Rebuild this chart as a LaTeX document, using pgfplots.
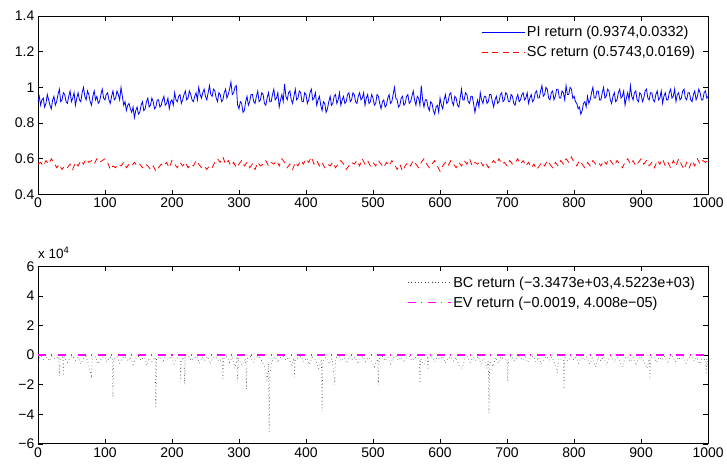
\documentclass[border=0pt]{standalone}
\usepackage{pgfplots}
\pgfplotsset{compat=1.18}
\usepackage{fontspec}
\setmainfont{Liberation Sans}

\pgfplotsset{
  mlab/.style={
    scale only axis, width=672pt,
    xmin=0, xmax=1000, xtick={0,100,...,1000},
    tick align=inside, major tick length=5pt,
    axis line style={line width=0.8pt}, every tick/.style={black, line width=0.6pt},
    /pgf/number format/assume math mode=true,
    /pgf/number format/1000 sep={},
    tick label style={font=\fontsize{14}{16}\selectfont},
    legend style={draw=none, fill=none, font=\fontsize{14.5}{17}\selectfont,
      at={(0.988,0.965)}, anchor=north east, row sep=4pt},
    legend cell align=left,
  },
}

\begin{document}
\begin{tikzpicture}
\path (0,0) rectangle (727pt,-468pt);

% top panel
\begin{axis}[mlab, at={(38pt,-195pt)}, anchor=south west, height=179pt,
  ymin=0.4, ymax=1.4, ytick={0.4,0.6,...,1.4},
  legend image code/.code={\draw[#1] (0pt,0pt) -- (43pt,0pt);}]
\addplot[blue, line width=0.8pt] coordinates {
(0,0.92)(2,0.95)(4,0.90)(6,0.93)(8,0.94)(10,0.89)(12,0.91)(14,0.96)(16,0.93)(18,0.90)(20,0.88)(22,0.93)(24,0.95)(26,0.90)(28,0.92)(30,0.96)(32,0.99)(34,0.92)(36,0.93)(38,0.97)(40,0.96)(42,0.92)(44,0.91)(46,0.95)(48,0.98)(50,0.92)(52,0.94)(54,0.97)(56,0.90)(58,0.94)(60,0.97)(62,0.93)(64,0.92)(66,0.97)(68,1.00)(70,0.95)(72,0.93)(74,0.98)(76,0.96)(78,0.92)(80,0.90)(82,0.95)(84,0.98)(86,0.93)(88,0.95)(90,0.91)(92,0.92)(94,0.96)(96,0.99)(98,0.94)
(100,0.93)(102,0.96)(104,0.97)(106,0.93)(108,0.91)(110,0.95)(112,0.98)(114,0.93)(116,0.94)(118,0.98)(120,0.96)(122,0.93)(124,1.00)(126,0.95)(128,0.90)(130,0.92)(132,0.87)(134,0.90)(136,0.91)(138,0.88)(140,0.86)(142,0.89)(144,0.83)(146,0.87)(148,0.89)(150,0.85)(152,0.86)(154,0.90)(156,0.92)(158,0.87)(160,0.88)(162,0.92)(164,0.94)(166,0.89)(168,0.90)(170,0.94)(172,0.92)(174,0.88)(176,0.89)(178,0.93)(180,0.93)(182,0.89)(184,0.90)(186,0.93)(188,0.95)(190,0.90)(192,0.91)(194,0.94)(196,0.88)(198,0.92)
(200,0.93)(202,0.90)(204,0.97)(206,0.93)(208,0.92)(210,0.95)(212,0.96)(214,0.91)(216,0.93)(218,0.96)(220,0.98)(222,0.93)(224,0.94)(226,0.98)(228,0.96)(230,0.93)(232,0.92)(234,0.95)(236,0.97)(238,0.93)(240,1.00)(242,0.96)(244,0.94)(246,0.97)(248,0.99)(250,0.95)(252,0.93)(254,0.97)(256,1.01)(258,0.96)(260,0.95)(262,0.99)(264,0.98)(266,0.94)(268,0.92)(270,0.97)(272,0.96)(274,0.92)(276,0.93)(278,0.97)(280,0.99)(282,0.94)(284,0.96)(286,0.99)(288,1.03)(290,0.96)(292,0.97)(294,1.00)(296,1.01)(298,0.90)
(300,0.88)(302,0.92)(304,0.91)(306,0.86)(308,0.87)(310,0.92)(312,0.95)(314,0.90)(316,0.92)(318,0.96)(320,0.96)(322,0.92)(324,0.91)(326,0.95)(328,0.98)(330,0.92)(332,0.93)(334,0.97)(336,0.96)(338,0.91)(340,0.90)(342,0.94)(344,0.97)(346,0.92)(348,0.92)(350,0.96)(352,0.99)(354,0.93)(356,0.94)(358,0.97)(360,0.89)(362,0.93)(364,0.96)(366,0.92)(368,1.02)(370,0.95)(372,0.93)(374,0.97)(376,0.98)(378,0.93)(380,0.91)(382,0.95)(384,0.99)(386,0.93)(388,0.94)(390,0.98)(392,0.97)(394,0.92)(396,0.92)(398,0.97)
(400,0.96)(402,0.91)(404,0.93)(406,0.97)(408,0.99)(410,0.93)(412,0.94)(414,0.97)(416,0.90)(418,0.93)(420,0.95)(422,0.90)(424,0.87)(426,0.92)(428,0.91)(430,0.86)(432,0.88)(434,0.92)(436,0.95)(438,0.90)(440,0.91)(442,0.95)(444,0.96)(446,0.91)(448,0.93)(450,0.97)(452,0.90)(454,0.93)(456,0.95)(458,0.91)(460,0.92)(462,0.96)(464,0.97)(466,0.92)(468,0.93)(470,0.97)(472,0.96)(474,0.92)(476,0.91)(478,0.95)(480,0.97)(482,0.93)(484,0.94)(486,0.97)(488,0.90)(490,0.94)(492,0.96)(494,0.91)(496,0.92)(498,0.96)
(500,0.94)(502,0.90)(504,0.91)(506,0.96)(508,0.95)(510,0.91)(512,0.88)(514,0.92)(516,0.93)(518,0.89)(520,0.90)(522,0.94)(524,0.96)(526,0.91)(528,0.92)(530,0.96)(532,1.00)(534,0.94)(536,0.93)(538,0.89)(540,0.90)(542,0.94)(544,0.95)(546,0.90)(548,0.91)(550,0.95)(552,0.96)(554,0.91)(556,0.92)(558,0.95)(560,0.98)(562,0.93)(564,0.90)(566,0.95)(568,0.94)(570,0.90)(572,1.01)(574,0.93)(576,0.89)(578,0.93)(580,0.93)(582,0.89)(584,0.87)(586,0.92)(588,0.91)(590,0.87)(592,0.85)(594,0.89)(596,0.90)(598,0.86)
(600,0.94)(602,0.90)(604,0.88)(606,0.93)(608,0.96)(610,0.91)(612,0.92)(614,0.96)(616,0.97)(618,0.92)(620,0.90)(622,0.95)(624,0.94)(626,0.90)(628,0.89)(630,0.94)(632,0.99)(634,0.93)(636,0.93)(638,0.97)(640,0.96)(642,0.92)(644,0.91)(646,0.95)(648,0.95)(650,0.91)(652,0.86)(654,0.90)(656,0.93)(658,0.89)(660,0.97)(662,0.93)(664,0.91)(666,0.95)(668,0.95)(670,0.91)(672,0.92)(674,0.96)(676,0.96)(678,0.92)(680,0.89)(682,0.93)(684,0.95)(686,0.91)(688,0.92)(690,0.96)(692,0.97)(694,0.92)(696,0.93)(698,0.97)
(700,0.96)(702,0.92)(704,0.92)(706,0.96)(708,0.95)(710,0.91)(712,0.90)(714,0.94)(716,0.96)(718,0.92)(720,0.93)(722,0.96)(724,0.97)(726,0.93)(728,0.94)(730,0.97)(732,0.91)(734,0.94)(736,0.96)(738,0.92)(740,0.93)(742,0.97)(744,0.98)(746,0.94)(748,0.94)(750,0.98)(752,1.01)(754,0.95)(756,0.96)(758,1.00)(760,0.99)(762,0.94)(764,0.93)(766,0.97)(768,0.98)(770,0.93)(772,0.95)(774,0.99)(776,0.99)(778,0.94)(780,0.94)(782,0.98)(784,0.97)(786,0.93)(788,1.01)(790,0.96)(792,0.96)(794,1.00)(796,0.99)(798,0.94)
(800,0.95)(802,0.92)(804,0.91)(806,0.88)(808,0.89)(810,0.85)(812,0.87)(814,0.91)(816,0.92)(818,0.89)(820,0.95)(822,0.91)(824,0.93)(826,0.97)(828,1.00)(830,0.94)(832,0.94)(834,0.98)(836,0.98)(838,0.93)(840,0.93)(842,0.97)(844,1.00)(846,0.94)(848,0.95)(850,0.99)(852,0.98)(854,0.93)(856,0.91)(858,0.95)(860,0.97)(862,0.92)(864,0.93)(866,0.97)(868,0.99)(870,0.94)(872,0.95)(874,0.98)(876,0.90)(878,0.94)(880,0.97)(882,0.93)(884,1.01)(886,0.95)(888,0.93)(890,0.97)(892,0.98)(894,0.93)(896,0.92)(898,0.97)
(900,0.96)(902,0.92)(904,0.94)(906,0.98)(908,0.99)(910,0.94)(912,0.93)(914,0.97)(916,0.97)(918,0.93)(920,0.92)(922,0.96)(924,0.98)(926,0.93)(928,0.94)(930,0.98)(932,0.91)(934,0.95)(936,0.97)(938,0.93)(940,0.93)(942,0.97)(944,0.99)(946,0.94)(948,0.95)(950,0.99)(952,0.92)(954,0.96)(956,0.97)(958,0.93)(960,0.94)(962,0.98)(964,0.99)(966,0.94)(968,0.93)(970,0.97)(972,0.97)(974,0.93)(976,0.92)(978,0.96)(980,0.98)(982,0.93)(984,0.95)(986,0.99)(988,0.97)(990,0.93)(992,0.93)(994,0.97)(996,0.98)(998,0.94)(1000,0.95)
};
\addlegendentry{PI return (0.9374,0.0332)}
\addplot[red, line width=0.8pt, dash pattern=on 6pt off 4.5pt] coordinates {
(0,0.57)(4,0.58)(8,0.56)(12,0.59)(16,0.57)(20,0.60)(24,0.58)(28,0.55)(32,0.57)(36,0.54)(40,0.56)(44,0.55)(48,0.57)(52,0.54)(56,0.58)(60,0.56)(64,0.59)(68,0.57)(72,0.60)(76,0.58)(80,0.59)(84,0.57)(88,0.60)(92,0.58)(96,0.59)
(100,0.60)(104,0.58)(108,0.54)(112,0.56)(116,0.55)(120,0.57)(124,0.56)(128,0.58)(132,0.55)(136,0.57)(140,0.56)(144,0.58)(148,0.56)(152,0.57)(156,0.55)(160,0.57)(164,0.56)(168,0.54)(172,0.56)(176,0.53)(180,0.55)(184,0.57)(188,0.56)(192,0.58)(196,0.55)
(200,0.59)(204,0.57)(208,0.55)(212,0.58)(216,0.56)(220,0.58)(224,0.55)(228,0.57)(232,0.56)(236,0.59)(240,0.57)(244,0.55)(248,0.56)(252,0.54)(256,0.56)(260,0.55)(264,0.58)(268,0.60)(272,0.58)(276,0.61)(280,0.57)(284,0.59)(288,0.56)(292,0.58)(296,0.55)
(300,0.57)(304,0.59)(308,0.56)(312,0.58)(316,0.55)(320,0.57)(324,0.54)(328,0.58)(332,0.56)(336,0.57)(340,0.59)(344,0.56)(348,0.58)(352,0.57)(356,0.59)(360,0.56)(364,0.60)(368,0.58)(372,0.55)(376,0.57)(380,0.54)(384,0.58)(388,0.56)(392,0.59)(396,0.57)
(400,0.60)(404,0.58)(408,0.61)(412,0.57)(416,0.59)(420,0.56)(424,0.58)(428,0.55)(432,0.57)(436,0.56)(440,0.58)(444,0.55)(448,0.57)(452,0.59)(456,0.57)(460,0.54)(464,0.56)(468,0.58)(472,0.57)(476,0.59)(480,0.56)(484,0.60)(488,0.57)(492,0.59)(496,0.56)
(500,0.58)(504,0.56)(508,0.59)(512,0.57)(516,0.55)(520,0.58)(524,0.56)(528,0.59)(532,0.57)(536,0.54)(540,0.57)(544,0.53)(548,0.56)(552,0.58)(556,0.56)(560,0.59)(564,0.57)(568,0.55)(572,0.58)(576,0.60)(580,0.57)(584,0.55)(588,0.57)(592,0.59)(596,0.56)
(600,0.53)(604,0.56)(608,0.58)(612,0.56)(616,0.59)(620,0.57)(624,0.55)(628,0.58)(632,0.56)(636,0.59)(640,0.57)(644,0.60)(648,0.56)(652,0.58)(656,0.57)(660,0.59)(664,0.56)(668,0.58)(672,0.55)(676,0.57)(680,0.59)(684,0.57)(688,0.60)(692,0.57)(696,0.58)
(700,0.56)(704,0.59)(708,0.57)(712,0.58)(716,0.60)(720,0.57)(724,0.59)(728,0.56)(732,0.58)(736,0.55)(740,0.57)(744,0.54)(748,0.56)(752,0.58)(756,0.56)(760,0.59)(764,0.57)(768,0.55)(772,0.58)(776,0.56)(780,0.59)(784,0.57)(788,0.60)(792,0.58)(796,0.61)
(800,0.58)(804,0.56)(808,0.59)(812,0.57)(816,0.55)(820,0.58)(824,0.56)(828,0.59)(832,0.57)(836,0.58)(840,0.56)(844,0.59)(848,0.57)(852,0.60)(856,0.58)(860,0.56)(864,0.59)(868,0.57)(872,0.55)(876,0.58)(880,0.60)(884,0.57)(888,0.59)(892,0.56)(896,0.58)
(900,0.60)(904,0.57)(908,0.59)(912,0.56)(916,0.58)(920,0.55)(924,0.59)(928,0.57)(932,0.60)(936,0.56)(940,0.58)(944,0.55)(948,0.59)(952,0.56)(956,0.60)(960,0.57)(964,0.54)(968,0.58)(972,0.55)(976,0.59)(980,0.56)(984,0.60)(988,0.57)(992,0.59)(996,0.58)(1000,0.59)
};
\addlegendentry{SC return (0.5743,0.0169)}
\end{axis}

% bottom panel
\begin{axis}[mlab, name=bot, at={(38pt,-445pt)}, anchor=south west, height=178pt,
  ymin=-60000, ymax=60000, ytick={-60000,-40000,-20000,0,20000,40000,60000},
  yticklabels={−6,−4,−2,0,2,4,6}, scaled y ticks=false,
  legend image code/.code={\draw[#1] (0pt,0pt) -- (43pt,0pt);}]
\addplot[black!75, line width=0.6pt, dash pattern=on 0.6pt off 2.8pt] coordinates {
(0,-11000)(2,-2000)(5,-500)(9,-3000)(13,-1500)(17,-4000)(21,-800)(25,-2500)(31,-1000)(32,-14000)(33,-3000)(37,-1500)(38,-14000)(39,-1200)(44,-5000)(48,-1800)(52,-700)(56,-3500)(60,-1500)(64,-6000)(68,-2200)(72,-900)(76,-7000)(80,-14000)(81,-3000)(86,-1000)(90,-6000)(95,-2000)
(99,-800)(103,-4500)(107,-1500)(111,-2000)(112,-29000)(113,-3000)(118,-1200)(122,-5500)(126,-2000)(130,-700)(134,-4000)(138,-1500)(142,-6500)(146,-2500)(150,-900)(154,-3500)(158,-1200)(162,-7000)(166,-2000)(170,-4500)(175,-1500)(176,-36000)(177,-2500)(182,-900)(186,-5000)(190,-1500)(195,-3000)
(199,-800)(203,-6000)(208,-2000)(212,-1500)(213,-18000)(214,-3500)(218,-1200)(219,-20000)(220,-1500)(225,-800)(229,-4000)(233,-2000)(237,-700)(241,-5500)(245,-1500)(249,-3500)(253,-900)(257,-6000)(261,-2000)(265,-1000)(270,-4500)(275,-2000)(276,-16000)(277,-2500)(282,-800)(286,-5000)(290,-1500)(294,-9000)(297,-2500)(298,-18000)(299,-2000)
(304,-7000)(310,-2000)(311,-23000)(312,-2500)(317,-1000)(321,-5000)(325,-1500)(329,-800)(334,-4000)(339,-9000)(342,-18000)(344,-6000)(345,-52000)(346,-12000)(350,-3000)(354,-1000)(358,-5000)(362,-1800)(366,-900)(370,-3500)(374,-1200)(379,-8000)(382,-2000)(383,-15000)(384,-3000)(389,-1500)(393,-700)(397,-4500)
(401,-2000)(405,-6500)(409,-1500)(414,-3000)(419,-9000)(423,-3000)(424,-38000)(425,-4000)(430,-1500)(434,-6000)(439,-2500)(443,-20000)(444,-2000)(449,-900)(453,-4000)(457,-1500)(461,-5500)(465,-800)(469,-3000)(473,-1200)(477,-6000)(481,-2000)(485,-900)(489,-4500)(493,-1500)(497,-3500)
(502,-8000)(507,-2500)(508,-20000)(509,-2500)(514,-1000)(518,-4000)(522,-1500)(526,-6000)(530,-2000)(534,-700)(538,-3500)(542,-1200)(546,-5000)(550,-2000)(554,-900)(558,-4000)(563,-1500)(569,-2000)(570,-19000)(571,-2500)(576,-6500)(581,-2000)(582,-10000)(583,-2000)(588,-800)(592,-4500)(596,-1500)
(600,-3000)(604,-900)(608,-5500)(612,-1800)(616,-1000)(620,-4000)(624,-1500)(628,-7000)(633,-9000)(637,-2500)(641,-1000)(645,-5000)(649,-1500)(653,-3500)(657,-800)(661,-6000)(665,-2000)(670,-9000)(672,-3000)(673,-40000)(674,-4000)(679,-8000)(683,-1500)(687,-5500)(691,-1000)(695,-3000)
(700,-2500)(701,-18000)(702,-2000)(707,-700)(711,-4000)(715,-1500)(719,-900)(723,-3500)(727,-1200)(731,-5000)(735,-2000)(739,-700)(743,-4500)(747,-1500)(751,-6000)(755,-2500)(759,-900)(763,-3500)(767,-1200)(771,-6000)(775,-12000)(777,-2500)(784,-3000)(785,-23000)(786,-1500)(791,-4000)(795,-900)
(799,-3000)(803,-1500)(807,-5500)(811,-800)(815,-3500)(819,-1200)(823,-6000)(827,-2000)(832,-8000)(836,-1500)(840,-4000)(844,-1000)(848,-6500)(852,-2500)(856,-900)(860,-5000)(864,-1500)(868,-3500)(872,-8000)(876,-2000)(880,-1000)(884,-4500)(888,-1500)(892,-7000)(896,-2500)
(900,-900)(904,-4000)(909,-9000)(912,-2500)(913,-16000)(914,-2000)(919,-800)(923,-5000)(927,-1500)(931,-3500)(935,-1000)(939,-6000)(943,-2000)(947,-900)(951,-4500)(955,-1500)(959,-3000)(963,-700)(967,-5500)(971,-2000)(975,-1000)(979,-4000)(983,-1500)(987,-6000)(991,-2500)(996,-3000)(997,-13000)(998,-2500)(1000,-9000)
};
\addlegendentry{BC return (−3.3473e+03,4.5223e+03)}
\addplot[color={rgb,1:red,1;green,0;blue,1}, line width=1.2pt, dash pattern=on 8pt off 5.5pt on 1pt off 5.5pt] coordinates {
(0,-0.0019)(100,-0.0019)(200,-0.0019)(300,-0.0019)(400,-0.0019)(500,-0.0019)(600,-0.0019)(700,-0.0019)(800,-0.0019)(900,-0.0019)(1000,-0.0019)
};
\addlegendentry{EV return (−0.0019, 4.008e−05)}
\end{axis}
\node[anchor=base west, font=\fontsize{13.5}{15}\selectfont, inner sep=0pt]
  at ([yshift=8pt]bot.north west) {x 10\textsuperscript{4}};
\end{tikzpicture}
\end{document}
